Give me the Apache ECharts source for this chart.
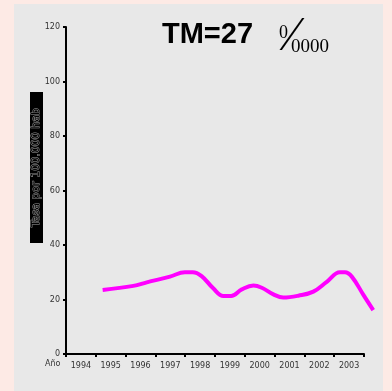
<!DOCTYPE html>
<html>
<head>
<meta charset="utf-8">
<script src="https://cdn.jsdelivr.net/npm/echarts@6/dist/echarts.min.js"></script>
<style>
  html, body { margin: 0; padding: 0; background: #fdeae5; }
  #chart { width: 392px; height: 391px; }
</style>
</head>
<body>
<div id="chart"></div>
<script>
// años del eje x
var years = ["1994", "1995", "1996", "1997", "1998", "1999", "2000", "2001", "2002", "2003"];
// puntos de la curva: posición en años (decimal) y tasa
var rateX = [1995.23, 1996.26, 1996.71, 1997.49, 1997.99, 1998.25, 1998.55, 1998.94, 1999.28, 1999.54,
  1999.90, 2000.29, 2000.57, 2000.96, 2001.29, 2001.80, 2002.30, 2002.75, 2003.19, 2003.36,
  2003.59, 2003.98, 2004.31];
var rateY = [23.5, 25.0, 26.3, 28.4, 30.0, 30.0, 28.6, 24.1, 21.3, 21.3,
  23.7, 25.1, 24.3, 21.9, 20.7, 21.4, 22.9, 26.5, 30.0, 30.0,
  28.4, 21.7, 16.1];
var yTicks = [0, 120, 20];

var chart = echarts.init(document.getElementById("chart"));

var option = {
  backgroundColor: "#fdeae5",
  animation: false,
  title: [
    {
      text: "TM=27",
      left: 157, top: 15,
      textStyle: { fontFamily: "Liberation Sans", fontWeight: "bold", fontSize: 29, color: "#000" }
    },
    {
      text: "0",
      left: 274, top: 19,
      textStyle: { fontFamily: "Liberation Serif", fontWeight: "normal", fontSize: 18, color: "#000" }
    },
    {
      text: "\u2044",
      left: 283, top: 8,
      textStyle: { fontFamily: "Liberation Serif", fontWeight: "normal", fontSize: 48, color: "#000" }
    },
    {
      text: "0000",
      left: 286, top: 33,
      textStyle: { fontFamily: "Liberation Serif", fontWeight: "normal", fontSize: 19, color: "#000" }
    }
  ],
  graphic: [
    {
      type: "rect", z: -10, silent: true,
      shape: { x: 14, y: 4, width: 369, height: 387 },
      style: { fill: "#e8e8e8" }
    },
    {
      type: "text", left: 45, top: 360,
      style: { text: "Año", font: "8px DejaVu Sans", fill: "#333" }
    },
    {
      type: "text", x: 36.5, y: 167.5, rotation: Math.PI / 2,
      style: {
        text: "Tasa por 100.000 hab",
        font: "11px DejaVu Sans",
        fill: "#000", stroke: "#999", lineWidth: 1,
        align: "center", verticalAlign: "middle",
        backgroundColor: "#000", padding: [1, 16, 1, 16]
      }
    }
  ],
  grid: [
    { left: 66, top: 27, right: 28, bottom: 37 },
    { left: 66, top: 27, right: 13.1, bottom: 37 }
  ],
  xAxis: [
    {
      type: "category",
      gridIndex: 0,
      data: years,
      boundaryGap: true,
      axisLine: { lineStyle: { color: "#000", width: 2 } },
      axisTick: { show: true, length: 3, lineStyle: { color: "#000", width: 2 } },
      axisLabel: { fontFamily: "DejaVu Sans", fontSize: 8, color: "#333", margin: 8, interval: 0 }
    },
    {
      type: "value",
      gridIndex: 1,
      min: 1994, max: 2004.5,
      show: false
    }
  ],
  yAxis: [
    {
      type: "value",
      gridIndex: 0,
      min: yTicks[0], max: yTicks[1], interval: yTicks[2],
      axisLine: { show: true, lineStyle: { color: "#000", width: 2 } },
      axisTick: { show: true, length: 3, lineStyle: { color: "#000", width: 2 } },
      splitLine: { show: false },
      axisLabel: { fontFamily: "DejaVu Sans", fontSize: 8, color: "#333", margin: 6 }
    },
    {
      type: "value",
      gridIndex: 1,
      min: yTicks[0], max: yTicks[1],
      show: false
    }
  ],
  series: [
    {
      type: "line",
      xAxisIndex: 1,
      yAxisIndex: 1,
      data: rateX.map(function (x, i) { return [x, rateY[i]]; }),
      smooth: 0.4,
      showSymbol: false,
      lineStyle: { color: "#ff00ff", width: 4 }
    }
  ]
};

chart.setOption(option);
</script>
</body>
</html>
